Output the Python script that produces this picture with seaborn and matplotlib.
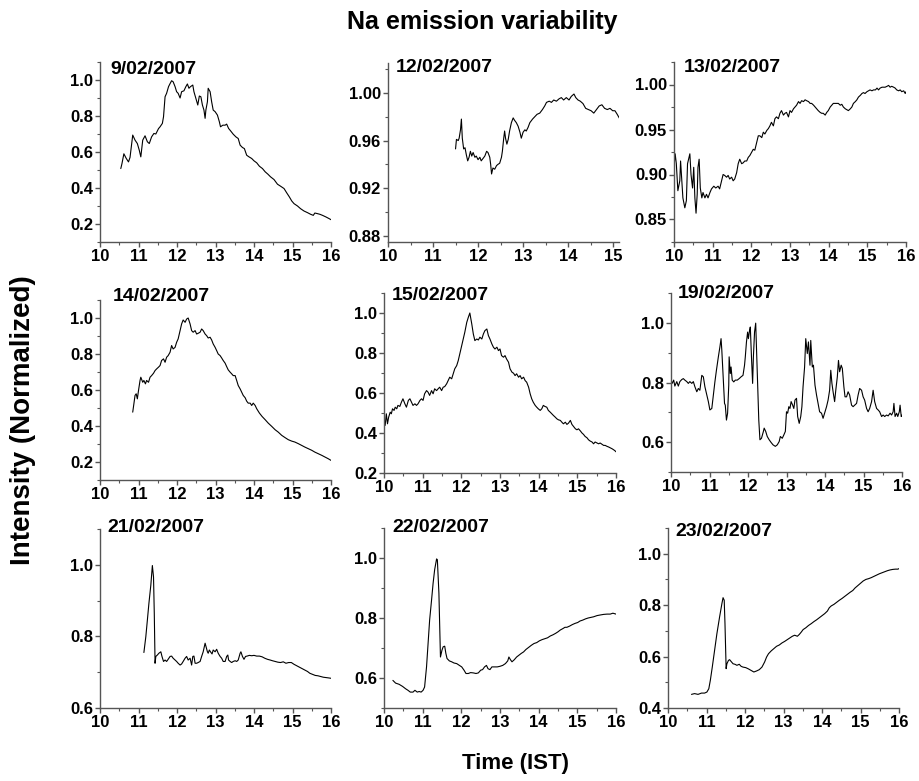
import matplotlib
matplotlib.use("Agg")
import matplotlib.pyplot as plt
import seaborn as sns
import pandas as pd
from matplotlib.ticker import MultipleLocator, FormatStrFormatter

# ---------------- data ----------------
dates = ["9/02/2007", "12/02/2007", "13/02/2007",
         "14/02/2007", "15/02/2007", "19/02/2007",
         "21/02/2007", "22/02/2007", "23/02/2007"]

t_0902 = [10.54, 10.57, 10.62, 10.68, 10.74, 10.78, 10.85, 10.91, 10.97, 11.02, 11.06, 11.11, 11.17, 11.23,
          11.28, 11.34, 11.40, 11.45, 11.52, 11.56, 11.62, 11.65, 11.69, 11.73, 11.78, 11.82, 11.86, 11.90,
          11.95, 11.99, 12.03, 12.08, 12.12, 12.18, 12.23, 12.27, 12.31, 12.35, 12.41, 12.44, 12.49, 12.54,
          12.58, 12.62, 12.66, 12.70, 12.73, 12.75, 12.79, 12.81, 12.86, 12.90, 12.94, 12.99, 13.05, 13.10,
          13.13, 13.19, 13.25, 13.29, 13.34, 13.39, 13.46, 13.53, 13.59, 13.64, 13.70, 13.75, 13.81, 13.87,
          13.94, 14.00, 14.07, 14.14, 14.22, 14.29, 14.36, 14.43, 14.52, 14.61, 14.69, 14.78, 14.85, 14.92,
          14.98, 15.04, 15.13, 15.21, 15.30, 15.39, 15.47, 15.54, 15.58, 15.64, 15.71, 15.78, 15.87, 15.95, 16.00]
v_0902 = [0.508, 0.535, 0.590, 0.565, 0.545, 0.570, 0.694, 0.666, 0.647, 0.610, 0.573, 0.666, 0.690, 0.657,
          0.647, 0.684, 0.703, 0.700, 0.730, 0.740, 0.759, 0.796, 0.907, 0.926, 0.963, 0.980, 0.996, 0.990,
          0.963, 0.935, 0.926, 0.900, 0.935, 0.940, 0.963, 0.978, 0.954, 0.963, 0.972, 0.935, 0.898, 0.861,
          0.911, 0.907, 0.861, 0.833, 0.787, 0.833, 0.879, 0.954, 0.935, 0.879, 0.833, 0.824, 0.805, 0.768,
          0.740, 0.749, 0.749, 0.755, 0.731, 0.718, 0.699, 0.684, 0.675, 0.638, 0.625, 0.619, 0.582, 0.573,
          0.564, 0.551, 0.540, 0.521, 0.508, 0.490, 0.477, 0.462, 0.447, 0.421, 0.410, 0.397, 0.373, 0.350,
          0.328, 0.313, 0.300, 0.285, 0.272, 0.263, 0.254, 0.248, 0.261, 0.258, 0.254, 0.248, 0.239, 0.230, 0.224]

t_1202 = [11.50, 11.52, 11.56, 11.58, 11.61, 11.63, 11.65, 11.68, 11.71, 11.74, 11.77, 11.80, 11.83, 11.86,
          11.89, 11.93, 11.96, 12.00, 12.04, 12.07, 12.11, 12.15, 12.19, 12.22, 12.26, 12.28, 12.30, 12.33,
          12.37, 12.41, 12.44, 12.48, 12.52, 12.54, 12.57, 12.59, 12.61, 12.64, 12.67, 12.70, 12.74, 12.78,
          12.81, 12.85, 12.89, 12.93, 12.96, 13.00, 13.04, 13.07, 13.11, 13.15, 13.21, 13.26, 13.31, 13.37,
          13.43, 13.48, 13.52, 13.58, 13.63, 13.68, 13.74, 13.80, 13.85, 13.90, 13.96, 14.02, 14.07, 14.13,
          14.17, 14.22, 14.27, 14.33, 14.39, 14.45, 14.51, 14.57, 14.63, 14.69, 14.75, 14.81, 14.87, 14.93,
          14.99, 15.04, 15.09, 15.15]
v_1202 = [0.953, 0.961, 0.960, 0.962, 0.969, 0.978, 0.962, 0.953, 0.954, 0.948, 0.943, 0.946, 0.951, 0.947,
          0.950, 0.946, 0.947, 0.944, 0.946, 0.943, 0.945, 0.947, 0.951, 0.950, 0.946, 0.940, 0.932, 0.937,
          0.936, 0.939, 0.940, 0.941, 0.946, 0.951, 0.962, 0.968, 0.962, 0.957, 0.961, 0.968, 0.975, 0.979,
          0.977, 0.975, 0.972, 0.967, 0.962, 0.967, 0.969, 0.968, 0.971, 0.975, 0.978, 0.980, 0.982, 0.983,
          0.986, 0.989, 0.992, 0.993, 0.992, 0.994, 0.993, 0.995, 0.996, 0.994, 0.996, 0.994, 0.997, 0.999,
          0.996, 0.994, 0.993, 0.991, 0.987, 0.986, 0.985, 0.983, 0.986, 0.989, 0.990, 0.987, 0.986, 0.987,
          0.985, 0.985, 0.982, 0.978]

t_1302 = [10.00, 10.03, 10.06, 10.10, 10.15, 10.17, 10.20, 10.23, 10.28, 10.32, 10.35, 10.41, 10.44, 10.48,
          10.51, 10.54, 10.57, 10.60, 10.62, 10.65, 10.68, 10.72, 10.75, 10.80, 10.84, 10.88, 10.93, 10.97,
          11.03, 11.08, 11.14, 11.18, 11.23, 11.27, 11.31, 11.36, 11.40, 11.44, 11.49, 11.53, 11.57, 11.62,
          11.66, 11.70, 11.75, 11.79, 11.83, 11.88, 11.92, 11.96, 12.01, 12.05, 12.09, 12.14, 12.18, 12.22,
          12.27, 12.31, 12.35, 12.40, 12.44, 12.48, 12.52, 12.57, 12.61, 12.65, 12.70, 12.74, 12.78, 12.83,
          12.87, 12.91, 12.96, 13.00, 13.04, 13.09, 13.13, 13.17, 13.22, 13.26, 13.30, 13.35, 13.39, 13.43,
          13.48, 13.52, 13.56, 13.61, 13.65, 13.69, 13.73, 13.78, 13.82, 13.86, 13.91, 13.95, 13.99, 14.04,
          14.08, 14.12, 14.17, 14.21, 14.25, 14.30, 14.34, 14.38, 14.43, 14.47, 14.51, 14.56, 14.60, 14.64,
          14.69, 14.73, 14.77, 14.82, 14.86, 14.90, 14.94, 14.99, 15.03, 15.07, 15.12, 15.16, 15.21, 15.25,
          15.29, 15.33, 15.38, 15.42, 15.46, 15.51, 15.55, 15.59, 15.63, 15.68, 15.72, 15.76, 15.81, 15.85,
          15.89, 15.94, 15.98, 16.00]
v_1302 = [0.908, 0.923, 0.912, 0.882, 0.893, 0.915, 0.895, 0.874, 0.863, 0.871, 0.912, 0.923, 0.900, 0.885,
          0.908, 0.874, 0.857, 0.878, 0.908, 0.917, 0.885, 0.874, 0.880, 0.874, 0.878, 0.874, 0.880, 0.884,
          0.887, 0.885, 0.887, 0.884, 0.893, 0.900, 0.899, 0.897, 0.899, 0.895, 0.897, 0.893, 0.895, 0.902,
          0.912, 0.917, 0.912, 0.913, 0.915, 0.915, 0.919, 0.921, 0.925, 0.928, 0.927, 0.936, 0.943, 0.943,
          0.941, 0.947, 0.945, 0.949, 0.951, 0.954, 0.958, 0.954, 0.962, 0.964, 0.962, 0.968, 0.971, 0.966,
          0.968, 0.969, 0.964, 0.971, 0.969, 0.973, 0.975, 0.977, 0.981, 0.979, 0.982, 0.981, 0.983, 0.982,
          0.981, 0.979, 0.979, 0.977, 0.975, 0.973, 0.971, 0.969, 0.968, 0.968, 0.966, 0.969, 0.971, 0.975,
          0.977, 0.979, 0.979, 0.979, 0.979, 0.977, 0.978, 0.975, 0.973, 0.972, 0.971, 0.973, 0.975, 0.979,
          0.981, 0.983, 0.986, 0.988, 0.990, 0.991, 0.990, 0.992, 0.993, 0.994, 0.993, 0.994, 0.994, 0.996,
          0.994, 0.996, 0.997, 0.997, 0.997, 0.998, 0.999, 0.997, 0.998, 0.997, 0.996, 0.994, 0.993, 0.994,
          0.992, 0.993, 0.990, 0.992]

t_1402 = [10.85, 10.88, 10.91, 10.94, 10.97, 11.00, 11.04, 11.06, 11.11, 11.14, 11.18, 11.21, 11.26, 11.30,
          11.34, 11.39, 11.43, 11.47, 11.52, 11.56, 11.60, 11.65, 11.69, 11.73, 11.77, 11.82, 11.86, 11.90,
          11.95, 11.99, 12.03, 12.08, 12.12, 12.16, 12.21, 12.25, 12.29, 12.34, 12.38, 12.42, 12.47, 12.51,
          12.55, 12.60, 12.64, 12.68, 12.73, 12.77, 12.81, 12.86, 12.90, 12.94, 12.99, 13.03, 13.07, 13.12,
          13.16, 13.20, 13.25, 13.29, 13.33, 13.38, 13.42, 13.46, 13.51, 13.55, 13.59, 13.64, 13.68, 13.72,
          13.77, 13.81, 13.85, 13.90, 13.94, 13.98, 14.03, 14.07, 14.14, 14.21, 14.29, 14.37, 14.46, 14.55,
          14.63, 14.72, 14.81, 14.89, 14.98, 15.06, 15.15, 15.24, 15.32, 15.41, 15.50, 15.58, 15.67, 15.76,
          15.84, 15.93, 16.00]
v_1402 = [0.477, 0.523, 0.570, 0.579, 0.551, 0.597, 0.653, 0.671, 0.643, 0.653, 0.634, 0.653, 0.643, 0.671,
          0.680, 0.693, 0.708, 0.717, 0.727, 0.736, 0.764, 0.773, 0.754, 0.782, 0.791, 0.810, 0.847, 0.828,
          0.837, 0.865, 0.884, 0.930, 0.967, 0.989, 0.976, 0.994, 1.000, 0.967, 0.930, 0.921, 0.930, 0.911,
          0.915, 0.921, 0.939, 0.930, 0.911, 0.902, 0.889, 0.893, 0.878, 0.856, 0.837, 0.819, 0.800, 0.791,
          0.778, 0.764, 0.749, 0.730, 0.712, 0.699, 0.690, 0.680, 0.680, 0.653, 0.625, 0.606, 0.588, 0.570,
          0.557, 0.538, 0.527, 0.527, 0.514, 0.527, 0.514, 0.496, 0.472, 0.453, 0.435, 0.416, 0.398, 0.379,
          0.366, 0.348, 0.335, 0.324, 0.316, 0.311, 0.302, 0.292, 0.283, 0.274, 0.265, 0.255, 0.246, 0.237,
          0.228, 0.218, 0.209]

t_1502 = [10.00, 10.03, 10.06, 10.09, 10.12, 10.16, 10.19, 10.22, 10.26, 10.29, 10.33, 10.36, 10.41, 10.45,
          10.49, 10.54, 10.58, 10.63, 10.67, 10.71, 10.75, 10.80, 10.84, 10.88, 10.93, 10.97, 11.01, 11.05,
          11.10, 11.14, 11.18, 11.23, 11.27, 11.31, 11.36, 11.40, 11.44, 11.49, 11.53, 11.57, 11.62, 11.66,
          11.70, 11.75, 11.79, 11.83, 11.88, 11.92, 11.96, 12.01, 12.05, 12.09, 12.14, 12.18, 12.22, 12.27,
          12.31, 12.35, 12.40, 12.44, 12.48, 12.53, 12.57, 12.61, 12.66, 12.70, 12.74, 12.79, 12.83, 12.87,
          12.92, 12.96, 13.00, 13.04, 13.09, 13.13, 13.17, 13.22, 13.26, 13.31, 13.35, 13.39, 13.43, 13.48,
          13.52, 13.56, 13.61, 13.65, 13.69, 13.74, 13.78, 13.82, 13.86, 13.91, 13.95, 13.99, 14.04, 14.08,
          14.12, 14.16, 14.21, 14.25, 14.30, 14.34, 14.38, 14.43, 14.47, 14.51, 14.56, 14.60, 14.64, 14.69,
          14.73, 14.77, 14.82, 14.86, 14.90, 14.95, 14.99, 15.03, 15.08, 15.12, 15.16, 15.20, 15.25, 15.29,
          15.33, 15.38, 15.42, 15.46, 15.51, 15.55, 15.59, 15.64, 15.68, 15.72, 15.77, 15.81, 15.85, 15.90,
          15.94, 15.98, 16.00]
v_1502 = [0.463, 0.438, 0.496, 0.446, 0.479, 0.504, 0.496, 0.521, 0.513, 0.529, 0.521, 0.538, 0.533, 0.554,
          0.571, 0.546, 0.529, 0.563, 0.571, 0.554, 0.538, 0.546, 0.538, 0.546, 0.563, 0.571, 0.563, 0.596,
          0.612, 0.604, 0.588, 0.612, 0.596, 0.621, 0.612, 0.621, 0.629, 0.612, 0.629, 0.632, 0.646, 0.662,
          0.679, 0.671, 0.696, 0.721, 0.737, 0.762, 0.795, 0.837, 0.870, 0.904, 0.953, 0.978, 1.000, 0.945,
          0.895, 0.862, 0.870, 0.865, 0.879, 0.870, 0.895, 0.912, 0.920, 0.887, 0.870, 0.845, 0.829, 0.820,
          0.829, 0.812, 0.820, 0.787, 0.779, 0.787, 0.770, 0.754, 0.721, 0.704, 0.699, 0.687, 0.696, 0.679,
          0.687, 0.671, 0.679, 0.662, 0.654, 0.629, 0.596, 0.571, 0.554, 0.538, 0.529, 0.521, 0.513, 0.521,
          0.538, 0.533, 0.529, 0.513, 0.504, 0.496, 0.488, 0.479, 0.471, 0.466, 0.463, 0.454, 0.446, 0.454,
          0.443, 0.449, 0.463, 0.443, 0.433, 0.421, 0.416, 0.421, 0.410, 0.400, 0.393, 0.383, 0.376, 0.366,
          0.360, 0.355, 0.346, 0.355, 0.350, 0.346, 0.350, 0.343, 0.338, 0.338, 0.333, 0.330, 0.326, 0.321,
          0.316, 0.310, 0.306]

t_1902 = [10.00, 10.03, 10.07, 10.10, 10.15, 10.19, 10.23, 10.28, 10.32, 10.36, 10.41, 10.45, 10.49, 10.54,
          10.58, 10.62, 10.67, 10.71, 10.75, 10.80, 10.84, 10.88, 10.93, 10.97, 11.01, 11.06, 11.10, 11.14,
          11.18, 11.23, 11.27, 11.30, 11.32, 11.36, 11.39, 11.41, 11.44, 11.47, 11.50, 11.51, 11.54, 11.56,
          11.59, 11.63, 11.67, 11.72, 11.77, 11.82, 11.87, 11.91, 11.93, 11.96, 11.99, 12.01, 12.04, 12.06,
          12.09, 12.12, 12.14, 12.17, 12.20, 12.22, 12.25, 12.28, 12.31, 12.35, 12.40, 12.42, 12.46, 12.50,
          12.55, 12.60, 12.65, 12.71, 12.76, 12.81, 12.84, 12.89, 12.93, 12.97, 13.00, 13.03, 13.06, 13.09,
          13.12, 13.16, 13.19, 13.22, 13.26, 13.29, 13.33, 13.37, 13.40, 13.43, 13.47, 13.50, 13.54, 13.57,
          13.61, 13.63, 13.67, 13.70, 13.74, 13.78, 13.82, 13.86, 13.91, 13.95, 13.99, 14.04, 14.08, 14.12,
          14.15, 14.18, 14.21, 14.25, 14.28, 14.32, 14.35, 14.38, 14.42, 14.45, 14.49, 14.52, 14.56, 14.60,
          14.64, 14.69, 14.73, 14.77, 14.82, 14.86, 14.90, 14.95, 14.99, 15.03, 15.08, 15.12, 15.16, 15.21,
          15.25, 15.29, 15.34, 15.38, 15.42, 15.47, 15.51, 15.55, 15.60, 15.64, 15.69, 15.73, 15.77, 15.79,
          15.82, 15.86, 15.89, 15.93, 15.95, 15.98, 16.00]
v_1902 = [0.808, 0.797, 0.808, 0.788, 0.803, 0.788, 0.803, 0.810, 0.813, 0.808, 0.803, 0.797, 0.803, 0.797,
          0.803, 0.786, 0.769, 0.780, 0.774, 0.824, 0.819, 0.786, 0.758, 0.736, 0.708, 0.713, 0.758, 0.802,
          0.841, 0.886, 0.919, 0.947, 0.908, 0.808, 0.730, 0.724, 0.674, 0.697, 0.791, 0.886, 0.830, 0.852,
          0.808, 0.802, 0.808, 0.808, 0.813, 0.819, 0.824, 0.858, 0.886, 0.936, 0.969, 0.947, 0.974, 0.986,
          0.886, 0.797, 0.886, 0.969, 0.999, 0.919, 0.808, 0.674, 0.608, 0.613, 0.636, 0.647, 0.636, 0.619,
          0.608, 0.599, 0.591, 0.586, 0.591, 0.602, 0.619, 0.613, 0.624, 0.636, 0.702, 0.697, 0.719, 0.713,
          0.736, 0.724, 0.713, 0.741, 0.747, 0.686, 0.663, 0.686, 0.719, 0.786, 0.852, 0.947, 0.897, 0.936,
          0.858, 0.941, 0.852, 0.858, 0.791, 0.758, 0.730, 0.702, 0.697, 0.680, 0.697, 0.719, 0.741, 0.774,
          0.841, 0.797, 0.769, 0.736, 0.774, 0.819, 0.874, 0.836, 0.858, 0.847, 0.786, 0.752, 0.752, 0.769,
          0.758, 0.724, 0.719, 0.724, 0.730, 0.758, 0.780, 0.774, 0.752, 0.741, 0.713, 0.702, 0.713, 0.736,
          0.774, 0.736, 0.713, 0.708, 0.702, 0.686, 0.691, 0.686, 0.691, 0.688, 0.697, 0.691, 0.702, 0.730,
          0.686, 0.697, 0.686, 0.702, 0.724, 0.686, 0.691]

t_2102 = [11.14, 11.19, 11.23, 11.27, 11.32, 11.36, 11.39, 11.41, 11.43, 11.45, 11.49, 11.53, 11.58, 11.61,
          11.65, 11.69, 11.73, 11.77, 11.82, 11.86, 11.90, 11.95, 11.99, 12.03, 12.08, 12.12, 12.16, 12.21,
          12.25, 12.29, 12.34, 12.38, 12.41, 12.44, 12.47, 12.51, 12.55, 12.60, 12.64, 12.68, 12.73, 12.75,
          12.79, 12.81, 12.84, 12.87, 12.91, 12.94, 12.99, 13.03, 13.07, 13.12, 13.16, 13.20, 13.25, 13.29,
          13.32, 13.34, 13.38, 13.42, 13.46, 13.51, 13.55, 13.59, 13.64, 13.66, 13.70, 13.74, 13.78, 13.82,
          13.88, 13.94, 14.00, 14.07, 14.14, 14.21, 14.28, 14.35, 14.42, 14.48, 14.55, 14.62, 14.69, 14.76,
          14.83, 14.90, 14.97, 15.04, 15.11, 15.18, 15.25, 15.32, 15.39, 15.45, 15.52, 15.59, 15.66, 15.73,
          15.80, 15.87, 15.94, 16.00]
v_2102 = [0.755, 0.799, 0.845, 0.892, 0.943, 0.998, 0.966, 0.864, 0.725, 0.744, 0.748, 0.753, 0.757, 0.744,
          0.730, 0.734, 0.730, 0.736, 0.744, 0.745, 0.739, 0.734, 0.730, 0.725, 0.720, 0.723, 0.730, 0.739,
          0.744, 0.734, 0.739, 0.720, 0.744, 0.745, 0.725, 0.725, 0.727, 0.730, 0.744, 0.757, 0.781, 0.773,
          0.757, 0.753, 0.762, 0.757, 0.751, 0.762, 0.757, 0.764, 0.753, 0.744, 0.739, 0.730, 0.730, 0.744,
          0.748, 0.734, 0.730, 0.727, 0.730, 0.732, 0.730, 0.734, 0.753, 0.757, 0.744, 0.736, 0.744, 0.745,
          0.747, 0.746, 0.747, 0.745, 0.745, 0.743, 0.739, 0.736, 0.734, 0.732, 0.730, 0.728, 0.727, 0.729,
          0.725, 0.727, 0.727, 0.722, 0.718, 0.714, 0.710, 0.706, 0.702, 0.697, 0.694, 0.691, 0.690, 0.688,
          0.686, 0.685, 0.684, 0.683]

t_2202 = [10.23, 10.30, 10.39, 10.48, 10.56, 10.62, 10.68, 10.75, 10.80, 10.86, 10.91, 10.96, 11.01, 11.05,
          11.10, 11.14, 11.18, 11.23, 11.27, 11.31, 11.36, 11.38, 11.42, 11.46, 11.50, 11.53, 11.57, 11.60,
          11.63, 11.69, 11.75, 11.81, 11.88, 11.95, 12.01, 12.07, 12.12, 12.18, 12.24, 12.31, 12.38, 12.44,
          12.50, 12.55, 12.60, 12.65, 12.69, 12.74, 12.79, 12.86, 12.93, 13.00, 13.07, 13.14, 13.20, 13.23,
          13.27, 13.31, 13.37, 13.43, 13.49, 13.55, 13.61, 13.67, 13.74, 13.81, 13.88, 13.95, 14.02, 14.09,
          14.16, 14.23, 14.30, 14.37, 14.44, 14.50, 14.56, 14.63, 14.68, 14.73, 14.80, 14.87, 14.94, 15.01,
          15.07, 15.14, 15.21, 15.28, 15.35, 15.42, 15.51, 15.59, 15.68, 15.77, 15.85, 15.92, 16.00]
v_2202 = [0.592, 0.583, 0.579, 0.572, 0.564, 0.559, 0.553, 0.553, 0.559, 0.553, 0.555, 0.553, 0.559, 0.570,
          0.637, 0.715, 0.793, 0.860, 0.916, 0.961, 0.997, 0.994, 0.883, 0.670, 0.693, 0.704, 0.706, 0.682,
          0.665, 0.657, 0.654, 0.650, 0.648, 0.642, 0.637, 0.626, 0.615, 0.615, 0.618, 0.617, 0.615, 0.617,
          0.626, 0.628, 0.637, 0.642, 0.631, 0.628, 0.637, 0.637, 0.637, 0.639, 0.642, 0.648, 0.657, 0.670,
          0.661, 0.654, 0.661, 0.670, 0.676, 0.682, 0.687, 0.695, 0.702, 0.709, 0.715, 0.718, 0.724, 0.728,
          0.731, 0.734, 0.740, 0.744, 0.749, 0.754, 0.760, 0.765, 0.769, 0.769, 0.773, 0.778, 0.782, 0.785,
          0.790, 0.793, 0.797, 0.800, 0.802, 0.804, 0.808, 0.810, 0.812, 0.813, 0.813, 0.816, 0.813]

t_2302 = [10.61, 10.69, 10.78, 10.87, 10.95, 11.01, 11.06, 11.10, 11.15, 11.21, 11.27, 11.34, 11.40, 11.43,
          11.46, 11.48, 11.51, 11.53, 11.57, 11.60, 11.65, 11.69, 11.74, 11.79, 11.85, 11.90, 11.95, 12.02,
          12.09, 12.16, 12.23, 12.30, 12.37, 12.44, 12.51, 12.56, 12.61, 12.68, 12.75, 12.82, 12.89, 12.96,
          13.03, 13.10, 13.16, 13.23, 13.29, 13.36, 13.41, 13.46, 13.51, 13.58, 13.65, 13.72, 13.79, 13.86,
          13.93, 14.00, 14.07, 14.14, 14.19, 14.24, 14.31, 14.38, 14.45, 14.52, 14.59, 14.66, 14.73, 14.80,
          14.86, 14.93, 15.00, 15.07, 15.14, 15.21, 15.28, 15.35, 15.42, 15.49, 15.56, 15.63, 15.70, 15.77,
          15.84, 15.91, 15.97, 16.00]
v_2302 = [0.453, 0.456, 0.453, 0.458, 0.458, 0.462, 0.475, 0.508, 0.559, 0.624, 0.689, 0.754, 0.806, 0.829,
          0.819, 0.728, 0.553, 0.572, 0.585, 0.588, 0.579, 0.572, 0.570, 0.566, 0.570, 0.562, 0.559, 0.557,
          0.552, 0.546, 0.540, 0.544, 0.549, 0.559, 0.579, 0.598, 0.611, 0.622, 0.631, 0.640, 0.645, 0.653,
          0.659, 0.666, 0.672, 0.679, 0.683, 0.679, 0.686, 0.695, 0.705, 0.712, 0.721, 0.728, 0.736, 0.743,
          0.751, 0.759, 0.767, 0.777, 0.790, 0.797, 0.803, 0.811, 0.819, 0.826, 0.834, 0.842, 0.850, 0.857,
          0.867, 0.876, 0.885, 0.894, 0.900, 0.903, 0.907, 0.912, 0.917, 0.922, 0.926, 0.930, 0.934, 0.937,
          0.939, 0.940, 0.940, 0.942]

times = [t_0902, t_1202, t_1302, t_1402, t_1502, t_1902, t_2102, t_2202, t_2302]
values = [v_0902, v_1202, v_1302, v_1402, v_1502, v_1902, v_2102, v_2202, v_2302]

x_limits = [(10, 16), (10, 15.13), (10, 16), (10, 16), (10, 16), (10, 16), (10, 16), (10, 16), (10, 16)]
y_limits = [(0.1, 1.1), (0.875, 1.025), (0.825, 1.025), (0.1, 1.1), (0.2, 1.1),
            (0.5, 1.1), (0.6, 1.1), (0.5, 1.1), (0.4, 1.1)]
y_major = [0.2, 0.04, 0.05, 0.2, 0.2, 0.2, 0.2, 0.2, 0.2]
y_minor = [0.1, 0.02, 0.025, 0.1, 0.1, 0.1, 0.1, 0.1, 0.1]
y_fmt = ["%.1f", "%.2f", "%.2f", "%.1f", "%.1f", "%.1f", "%.1f", "%.1f", "%.1f"]

# ---------------- layout (pixels: left, top, right, bottom) ----------------
W, H = 919, 781
boxes = [(100, 62, 331, 242), (388, 63, 619, 242), (674, 62, 906, 242),
         (100, 300, 331, 480), (384, 293, 616, 473), (671, 293, 902, 472),
         (100, 529, 331, 708), (384, 528, 616, 708), (668, 528, 899, 708)]
title_pos = [(110, 70), (396, 68), (684, 68),
             (113, 297), (392, 296), (678, 293),
             (107, 527), (392, 527), (675, 531)]

sns.set_theme(style="ticks")
plt.rcParams["font.family"] = ["Liberation Sans", "DejaVu Sans"]
plt.rcParams["font.weight"] = "bold"
plt.rcParams["text.color"] = "black"
plt.rcParams["axes.labelcolor"] = "black"

fig = plt.figure(figsize=(W / 100, H / 100), dpi=100)
fig.patch.set_facecolor("white")

spine_col = "#555555"
for i in range(9):
    l, t, r, b = boxes[i]
    ax = fig.add_axes([l / W, 1 - b / H, (r - l) / W, (b - t) / H])
    df = pd.DataFrame({"time": times[i], "intensity": values[i]})
    sns.lineplot(data=df, x="time", y="intensity", ax=ax, color="black",
                 linewidth=0.8, sort=False, estimator=None)
    ax.set_xlim(*x_limits[i])
    ax.set_ylim(*y_limits[i])
    ax.xaxis.set_major_locator(MultipleLocator(1))
    ax.xaxis.set_minor_locator(MultipleLocator(0.5))
    ax.yaxis.set_major_locator(MultipleLocator(y_major[i]))
    ax.yaxis.set_minor_locator(MultipleLocator(y_minor[i]))
    ax.yaxis.set_major_formatter(FormatStrFormatter(y_fmt[i]))
    ax.xaxis.set_major_formatter(FormatStrFormatter("%d"))
    ax.set_xlabel("")
    ax.set_ylabel("")
    ax.set_facecolor("white")
    for s in ["top", "right"]:
        ax.spines[s].set_visible(False)
    for s in ["left", "bottom"]:
        ax.spines[s].set_color(spine_col)
        ax.spines[s].set_linewidth(1.0)
    ax.tick_params(which="major", direction="out", length=3.5, width=1,
                   color=spine_col, labelcolor="black", labelsize=12, pad=1.5)
    ax.tick_params(which="minor", direction="out", length=2, width=0.8,
                   color=spine_col)
    for lab in ax.get_xticklabels() + ax.get_yticklabels():
        lab.set_fontweight("bold")
    tx, ty = title_pos[i]
    fig.text(tx / W, 1 - ty / H, dates[i], ha="left", va="center",
             fontsize=14, fontweight="bold", color="black")

fig.text(482 / W, 1 - 22 / H, "Na emission variability", ha="center", va="center",
         fontsize=18, fontweight="bold", color="black")
fig.text(23 / W, 1 - 420 / H, "Intensity (Normalized)", ha="center", va="center",
         rotation=90, fontsize=20, fontweight="bold", color="black")
fig.text(515 / W, 1 - 763 / H, "Time (IST)", ha="center", va="center",
         fontsize=16, fontweight="bold", color="black")

fig.savefig("out.png", dpi=100, facecolor="white")
